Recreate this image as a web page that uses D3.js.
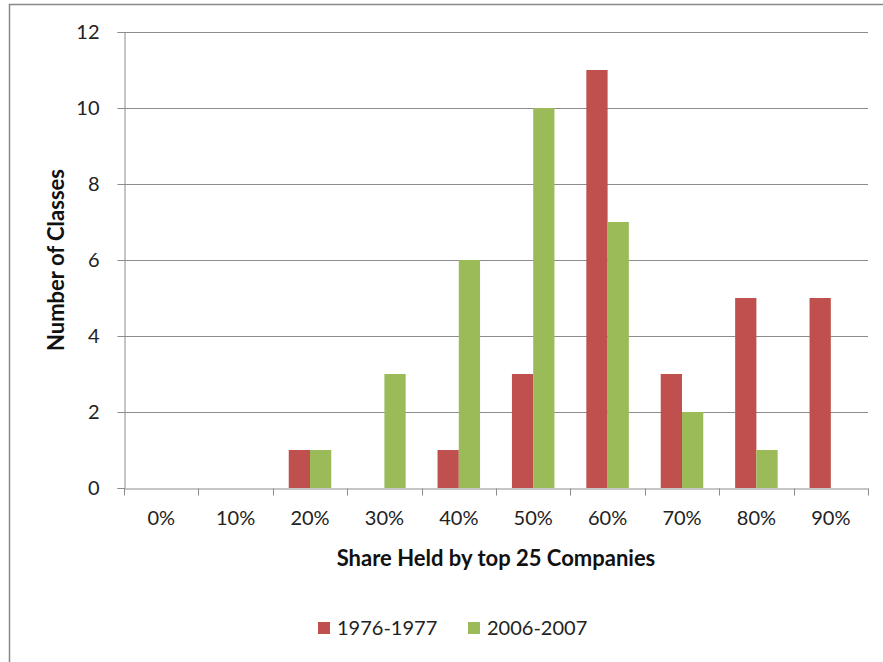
<!DOCTYPE html>
<html>
<head>
<meta charset="utf-8">
<script src="https://cdn.jsdelivr.net/npm/d3@7"></script>
<style>
  body { margin: 0; background: #fff; }
  svg { display: block; font-family: Lato, "Open Sans", sans-serif; }
</style>
</head>
<body>
<svg id="chart" width="883" height="662"></svg>
<script>
// Distribution of classes by share held by the top 25 companies
const categories = ["0%", "10%", "20%", "30%", "40%", "50%", "60%", "70%", "80%", "90%"];
const seriesNames = ["1976-1977", "2006-2007"];
const values1976 = [0, 0, 1, 0, 1, 3, 11, 3, 5, 5];
const values2006 = [0, 0, 1, 3, 6, 10, 7, 2, 1, 0];
const yTicks = [0, 2, 4, 6, 8, 10, 12];
const colors = ["#C0504D", "#9BBB59"];

const svg = d3.select("#chart");
const margin = { left: 124, right: 15, top: 32, bottom: 174 };
const W = 883, H = 662;

// chart frame
svg.append("rect")
  .attr("x", 9.5).attr("y", 4.5)
  .attr("width", W + 10).attr("height", H + 10)
  .attr("fill", "#fff").attr("stroke", "#888").attr("stroke-width", 1.5);

const x0 = d3.scaleBand().domain(categories).range([margin.left, W - margin.right]);
const x1 = d3.scaleBand().domain(seriesNames)
  .range([0, x0.bandwidth()]).paddingOuter(0.75).paddingInner(0);
const y = d3.scaleLinear().domain([0, 12]).range([H - margin.bottom, margin.top]);

// horizontal gridlines
svg.append("g").selectAll("line").data(yTicks.filter(d => d > 0)).join("line")
  .attr("x1", margin.left).attr("x2", W - margin.right)
  .attr("y1", d => Math.round(y(d)) + 0.5).attr("y2", d => Math.round(y(d)) + 0.5)
  .attr("stroke", "#8c8c8c").attr("stroke-width", 1);

// bars
const rows = categories.map((c, i) => ({ cat: c, vals: [values1976[i], values2006[i]] }));
svg.append("g").selectAll("g").data(rows).join("g")
  .attr("transform", d => `translate(${x0(d.cat)},0)`)
  .selectAll("rect").data(d => d.vals.map((v, j) => ({ v, s: seriesNames[j], j })))
  .join("rect")
  .attr("x", d => x1(d.s)).attr("width", x1.bandwidth())
  .attr("y", d => y(d.v)).attr("height", d => y(0) - y(d.v))
  .attr("fill", d => colors[d.j]);

// y axis
const yAxis = d3.axisLeft(y).tickValues(yTicks).tickSize(7).tickPadding(18);
const gy = svg.append("g").attr("transform", `translate(${margin.left + 0.5},0)`).call(yAxis);
gy.select(".domain").attr("stroke", "#8c8c8c");
gy.selectAll(".tick line").attr("stroke", "#8c8c8c");
gy.selectAll(".tick text").attr("font-size", 20).attr("fill", "#222")
  .attr("font-family", "Lato, sans-serif");

// x axis
const xAxis = d3.axisBottom(x0).tickSize(0).tickPadding(22);
const gx = svg.append("g").attr("transform", `translate(0,${Math.round(y(0)) + 0.5})`).call(xAxis);
gx.select(".domain").attr("stroke", "#8c8c8c");
gx.selectAll(".tick text").attr("font-size", 20).attr("fill", "#222")
  .attr("font-family", "Lato, sans-serif");
// category boundary ticks
const bounds = categories.map(c => x0(c)).concat([W - margin.right]);
gx.selectAll(".bound").data(bounds).join("line").attr("class", "bound")
  .attr("x1", d => Math.round(d) + 0.5).attr("x2", d => Math.round(d) + 0.5)
  .attr("y1", 0).attr("y2", 7).attr("stroke", "#8c8c8c");

// axis titles
svg.append("text")
  .attr("x", (margin.left + W - margin.right) / 2).attr("y", 566)
  .attr("text-anchor", "middle").attr("font-size", 22).attr("font-weight", "bold")
  .attr("fill", "#111").text("Share Held by top 25 Companies");
svg.append("text")
  .attr("transform", `translate(64,${(y(0) + y(12)) / 2}) rotate(-90)`)
  .attr("text-anchor", "middle").attr("font-size", 22).attr("font-weight", "bold")
  .attr("fill", "#111").text("Number of Classes");

// legend
const legend = svg.append("g").attr("transform", "translate(318,628)");
const legendX = [0, 150];
seriesNames.forEach((name, i) => {
  const g = legend.append("g").attr("transform", `translate(${legendX[i]},0)`);
  g.append("rect").attr("x", 0).attr("y", -6).attr("width", 12).attr("height", 12).attr("fill", colors[i]);
  g.append("text").attr("x", 19).attr("y", 0).attr("dy", "0.35em")
    .attr("font-size", 20).attr("fill", "#222").text(name);
});
</script>
</body>
</html>
